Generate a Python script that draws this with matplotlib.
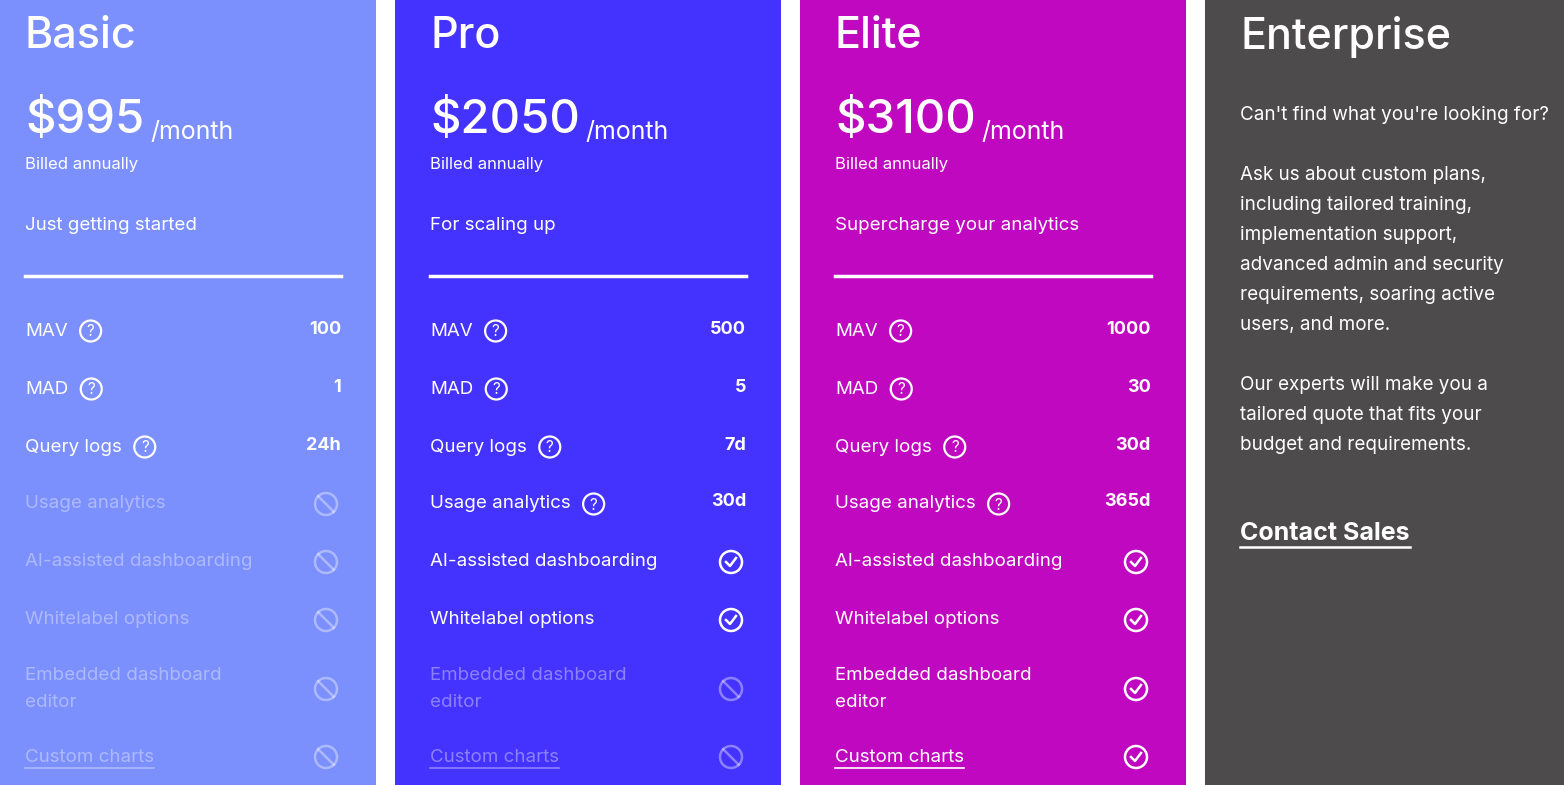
import matplotlib.pyplot as plt
from matplotlib.patches import Rectangle, Circle

plt.rcParams["font.family"] = ["Inter", "DejaVu Sans"]

PLANS = ["Basic", "Pro", "Elite"]
PRICES = ["$995", "$2050", "$3100"]
TAGLINES = ["Just getting started", "For scaling up", "Supercharge your analytics"]
PANEL_COLORS = ["#7b8ffd", "#4433fe", "#bf08bf"]
ENTERPRISE_COLOR = "#4d4b4b"

FEATURES = ["MAV", "MAD", "Query logs", "Usage analytics", "AI-assisted dashboarding",
            "Whitelabel options", "Embedded dashboard\neditor", "Custom charts"]
FEATURE_Y = [331, 389, 447, 504, 562, 620, 689, 757]
HAS_HELP = [True, True, True, True, False, False, False, False]
# value per plan: string value, True = check, False = not included
PLAN_VALUES = [
    ["100", "1", "24h", False, False, False, False, False],
    ["500", "5", "7d", "30d", True, True, False, False],
    ["1000", "30", "30d", "365d", True, True, True, True],
]

ENTERPRISE_LINES = [
    "Can't find what you're looking for?", "",
    "Ask us about custom plans,", "including tailored training,",
    "implementation support,", "advanced admin and security",
    "requirements, soaring active", "users, and more.", "",
    "Our experts will make you a", "tailored quote that fits your",
    "budget and requirements.",
]

fig = plt.figure(figsize=(15.64, 7.85), dpi=100)
ax = fig.add_axes([0, 0, 1, 1])
ax.set_xlim(0, 1564)
ax.set_ylim(785, 0)
ax.axis("off")

col_left = [0, 395, 800]
for i, plan in enumerate(PLANS):
    x0 = col_left[i]
    ax.add_patch(Rectangle((x0 - (5 if i == 0 else 0), 0), 386 - (5 if i == 0 else 0), 785,
                           color=PANEL_COLORS[i], lw=0))
    tx = x0 + (25 if i == 0 else 35)
    rx = tx + 316
    ax.text(tx, 37, plan, color="white", fontsize=31, va="center", fontweight="medium")
    t = ax.text(tx, 121, PRICES[i], color="white", fontsize=34, va="center", fontweight="medium")
    fig.canvas.draw()
    bb = t.get_window_extent()
    ax.text(tx + bb.width + 6, 132, "/month", color="white", fontsize=18, va="center")
    ax.text(tx, 164, "Billed annually", color="white", fontsize=12, va="center")
    ax.text(tx, 226, TAGLINES[i], color="white", fontsize=13.5, va="center")
    ax.plot([tx, rx], [276, 276], color="white", lw=2.5)
    for j, feat in enumerate(FEATURES):
        val = PLAN_VALUES[i][j]
        y = FEATURE_Y[j]
        disabled = val is False
        c = (1, 1, 1, 0.38) if disabled else "white"
        ft = ax.text(tx, y, feat, color=c, fontsize=13.5, va="center", linespacing=1.8)
        if j == 7:
            fig.canvas.draw()
            w = ft.get_window_extent().width
            ax.plot([tx, tx + w], [y + 11, y + 11], color=c, lw=1.2)
        if HAS_HELP[j] and not disabled:
            fig.canvas.draw()
            w = ft.get_window_extent().width
            cx = tx + w + 23
            ax.add_patch(Circle((cx, y), 10.5, fill=False, ec=c, lw=1.6))
            ax.text(cx, y + 1, "?", color=c, fontsize=11, ha="center", va="center")
        if isinstance(val, str):
            ax.text(rx, y - 2, val, color="white", fontsize=13, ha="right", va="center",
                    fontweight="bold")
        elif val:
            cx = rx - 15
            ax.add_patch(Circle((cx, y), 11, fill=False, ec="white", lw=1.8))
            ax.plot([cx - 5, cx - 1, cx + 5], [y, y + 4, y - 4], color="white", lw=1.8)
        else:
            cx = rx - 15
            ax.add_patch(Circle((cx, y), 11, fill=False, ec=c, lw=1.8))
            ax.plot([cx - 7.8, cx + 7.8], [y - 7.8, y + 7.8], color=c, lw=1.8)

ax.add_patch(Rectangle((1205, 0), 359, 785, color=ENTERPRISE_COLOR, lw=0))
ax.text(1240, 37, "Enterprise", color="white", fontsize=31, va="center", fontweight="medium")
for k, line in enumerate(ENTERPRISE_LINES):
    ax.text(1240, 115 + 30 * k, line, color="white", fontsize=13.6, va="center")
cs = ax.text(1240, 534, "Contact Sales", color="white", fontsize=18, va="center",
             fontweight="bold")
fig.canvas.draw()
w = cs.get_window_extent().width
ax.plot([1240, 1240 + w], [547, 547], color="white", lw=1.8)

fig.savefig("out.png", dpi=100)
